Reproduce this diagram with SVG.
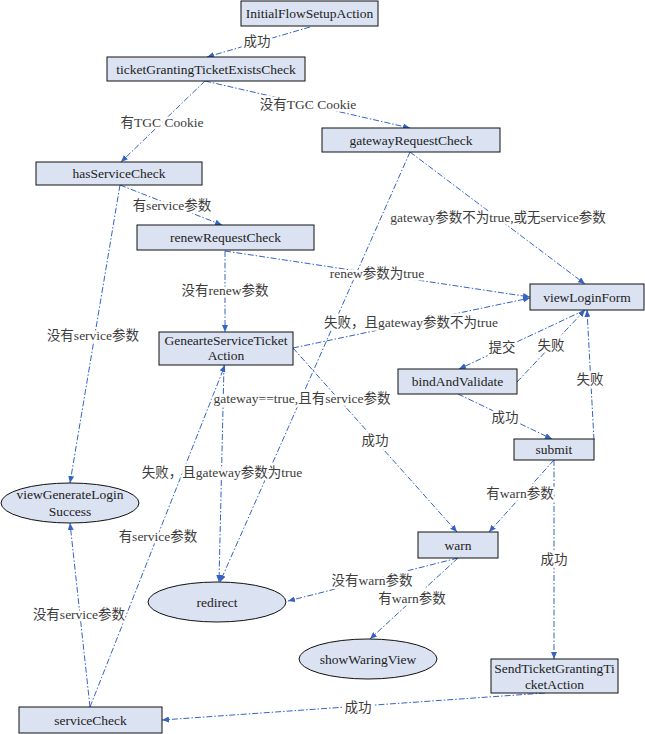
<svg xmlns="http://www.w3.org/2000/svg" width="645" height="734" viewBox="0 0 645 734">
<defs>
<marker id="arr" markerWidth="7" markerHeight="6" refX="7" refY="3" orient="auto" markerUnits="userSpaceOnUse">
<path d="M0,0 L7,3 L0,6 z" fill="#3563c4"/>
</marker>
<style>
.n rect, .n ellipse { fill: #dbe3f3; stroke: #111; stroke-width: 1; }
.n text { font-family: "Liberation Serif", "Noto Sans CJK SC", serif; font-size: 13.5px; fill: #222; text-anchor: middle; }
#connectors line { stroke: #3563c4; stroke-width: 1; stroke-dasharray: 6 2 1.5 2; fill: none; marker-end: url(#arr); }
.lbl { font-family: "Liberation Serif", "Noto Sans CJK SC", serif; font-size: 13.5px; fill: #3c3c3c; text-anchor: middle; paint-order: stroke; stroke: #fff; stroke-width: 5px; stroke-linejoin: round; }
</style>
</defs>
<rect width="645" height="734" fill="#fff"/>

<g id="connectors">
<line x1="310" y1="27" x2="207" y2="57"/>
<line x1="205" y1="81" x2="121" y2="162"/>
<line x1="205" y1="81" x2="410" y2="128"/>
<line x1="120" y1="185" x2="222" y2="225"/>
<line x1="120" y1="185" x2="70" y2="483"/>
<line x1="225" y1="251" x2="225" y2="332"/>
<line x1="225" y1="251" x2="530" y2="297"/>
<line x1="410" y1="152" x2="585" y2="284"/>
<line x1="410" y1="152" x2="220" y2="582"/>
<line x1="293" y1="348" x2="530" y2="298"/>
<line x1="293" y1="348" x2="457" y2="532"/>
<line x1="224" y1="365" x2="219" y2="582"/>
<line x1="90" y1="707" x2="225" y2="365"/>
<line x1="90" y1="707" x2="70" y2="523"/>
<line x1="585" y1="310" x2="459" y2="369"/>
<line x1="517" y1="382" x2="585" y2="310"/>
<line x1="594" y1="440" x2="587" y2="310"/>
<line x1="458" y1="394" x2="552" y2="439"/>
<line x1="554" y1="460" x2="489" y2="532"/>
<line x1="554" y1="460" x2="554" y2="659"/>
<line x1="458" y1="558" x2="288" y2="601"/>
<line x1="458" y1="558" x2="370" y2="639"/>
<line x1="545" y1="693" x2="162" y2="720"/>
</g>

<g id="labels">
<text class="lbl" x="257" y="46">成功</text>
<text class="lbl" x="162" y="127">有TGC Cookie</text>
<text class="lbl" x="308" y="109">没有TGC Cookie</text>
<text class="lbl" x="172" y="210">有service参数</text>
<text class="lbl" x="93" y="340">没有service参数</text>
<text class="lbl" x="225" y="295">没有renew参数</text>
<text class="lbl" x="377" y="278">renew参数为true</text>
<text class="lbl" x="498" y="222">gateway参数不为true,或无service参数</text>
<text class="lbl" x="411" y="327">失败，且gateway参数不为true</text>
<text class="lbl" x="302" y="403">gateway==true,且有service参数</text>
<text class="lbl" x="375" y="445">成功</text>
<text class="lbl" x="222" y="477">失败，且gateway参数为true</text>
<text class="lbl" x="158" y="541">有service参数</text>
<text class="lbl" x="79" y="619">没有service参数</text>
<text class="lbl" x="502" y="352">提交</text>
<text class="lbl" x="551" y="350">失败</text>
<text class="lbl" x="590" y="384">失败</text>
<text class="lbl" x="505" y="422">成功</text>
<text class="lbl" x="520" y="498">有warn参数</text>
<text class="lbl" x="554" y="564">成功</text>
<text class="lbl" x="372" y="585">没有warn参数</text>
<text class="lbl" x="412" y="603">有warn参数</text>
<text class="lbl" x="358" y="712">成功</text>
</g>

<g id="InitialFlowSetupAction" class="n"><rect x="241" y="1" width="137" height="25"/><text x="309.5" y="18">InitialFlowSetupAction</text></g>
<g id="ticketGrantingTicketExistsCheck" class="n"><rect x="107" y="57" width="198" height="24"/><text x="206" y="73.5">ticketGrantingTicketExistsCheck</text></g>
<g id="hasServiceCheck" class="n"><rect x="36" y="162" width="166" height="23"/><text x="119" y="178">hasServiceCheck</text></g>
<g id="gatewayRequestCheck" class="n"><rect x="322" y="128" width="178" height="24"/><text x="411" y="144.5">gatewayRequestCheck</text></g>
<g id="renewRequestCheck" class="n"><rect x="137" y="225" width="177" height="25"/><text x="225.5" y="242">renewRequestCheck</text></g>
<g id="viewLoginForm" class="n"><rect x="530" y="284" width="114" height="26"/><text x="587" y="301.5">viewLoginForm</text></g>
<g id="GenearteServiceTicketAction" class="n"><rect x="159" y="332" width="134" height="33"/><text x="226" y="345">GenearteServiceTicket</text><text x="226" y="360">Action</text></g>
<g id="bindAndValidate" class="n"><rect x="398" y="369" width="119" height="25"/><text x="457.5" y="386">bindAndValidate</text></g>
<g id="submit" class="n"><rect x="514" y="439" width="80" height="21"/><text x="554" y="454">submit</text></g>
<g id="viewGenerateLoginSuccess" class="n"><ellipse cx="70" cy="503" rx="69" ry="20"/><text x="70" y="499">viewGenerateLogin</text><text x="70" y="516">Success</text></g>
<g id="warn" class="n"><rect x="418" y="532" width="80" height="26"/><text x="458" y="549.5">warn</text></g>
<g id="redirect" class="n"><ellipse cx="217" cy="602" rx="69" ry="20"/><text x="217" y="606.5">redirect</text></g>
<g id="showWaringView" class="n"><ellipse cx="368" cy="659" rx="69" ry="20"/><text x="368" y="663.5">showWaringView</text></g>
<g id="SendTicketGrantingTicketAction" class="n"><rect x="491" y="659" width="127" height="34"/><text x="554.5" y="673">SendTicketGrantingTi</text><text x="554.5" y="689">cketAction</text></g>
<g id="serviceCheck" class="n"><rect x="19" y="707" width="143" height="26"/><text x="90.5" y="724.5">serviceCheck</text></g>
</svg>
